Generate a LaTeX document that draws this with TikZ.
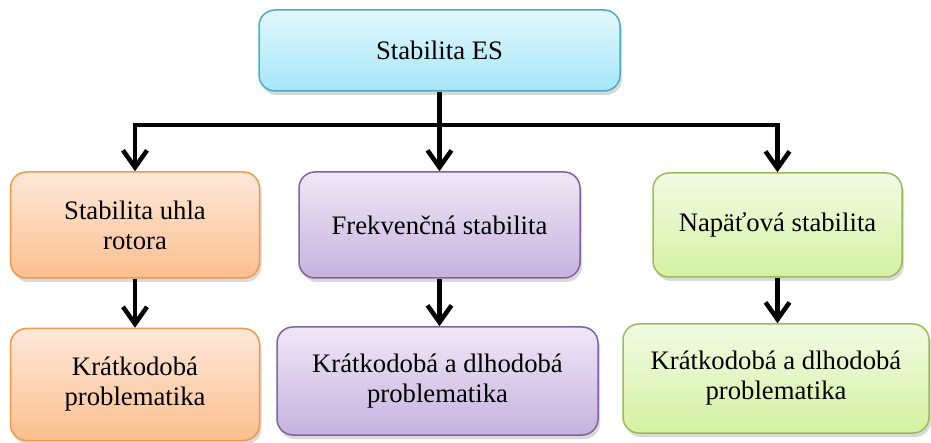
\documentclass[tikz,border=0pt]{standalone}
\usepackage{fontspec}
\setmainfont{Liberation Serif}
\usetikzlibrary{arrows.meta,shadows}
\definecolor{cyanT}{HTML}{E2F8FE}
\definecolor{cyanB}{HTML}{A6E6F8}
\definecolor{cyanD}{HTML}{4BACC6}
\definecolor{orT}{HTML}{FDE8DA}
\definecolor{orB}{HTML}{FBBF8E}
\definecolor{orD}{HTML}{F79646}
\definecolor{puT}{HTML}{EFE8F6}
\definecolor{puB}{HTML}{C6B2DE}
\definecolor{puD}{HTML}{8064A2}
\definecolor{grT}{HTML}{F2FBE4}
\definecolor{grB}{HTML}{D5F1A2}
\definecolor{grD}{HTML}{9BBB59}
\tikzset{
  box/.style={rounded corners=16pt, line width=1.5pt, align=center,
    font=\fontsize{26.7}{30}\selectfont, inner sep=0pt,
    drop shadow={shadow xshift=2pt, shadow yshift=-4pt, opacity=0.3}},
  cyanbox/.style={box, draw=cyanD, top color=cyanT, bottom color=cyanB},
  orbox/.style={box, draw=orD, top color=orT, bottom color=orB},
  pubox/.style={box, draw=puD, top color=puT, bottom color=puB},
  grbox/.style={box, draw=grD, top color=grT, bottom color=grB},
  conn/.style={line width=4.5pt, -{Straight Barb[length=17pt,width=24pt,line width=4.5pt]}}
}
\begin{document}
\begin{tikzpicture}[x=1pt,y=-1pt]
\useasboundingbox (0,0) rectangle (931,443);
\node[cyanbox, minimum width=361pt, minimum height=81pt] (top) at (439.5,50.5) {Stabilita ES};
\node[orbox, minimum width=249pt, minimum height=106pt] (L1) at (135,225) {Stabilita uhla\\rotora};
\node[orbox, minimum width=249pt, minimum height=112pt] (L2) at (135,384.5) {Krátkodobá\\problematika};
\node[pubox, minimum width=281pt, minimum height=106pt] (M1) at (439.5,225) {Frekvenčná stabilita};
\node[pubox, minimum width=321pt, minimum height=108pt] (M2) at (437.5,381) {Krátkodobá a dlhodobá\\problematika};
\node[grbox, minimum width=249pt, minimum height=104pt] (R1) at (777.5,225) {Napäťová stabilita};
\node[grbox, minimum width=306pt, minimum height=109pt] (R2) at (776,378.5) {Krátkodobá a dlhodobá\\problematika};
\coordinate (hub) at (439.5,125);
\draw[line width=4.5pt] (top.south) -- (hub);
\draw[conn] (hub) -| (L1.north);
\draw[conn] (hub) -- (M1.north);
\draw[conn] (hub) -| (R1.north);
\draw[conn] (L1.south) -- (L1.south |- L2.north);
\draw[conn] (M1.south) -- (M1.south |- M2.north);
\draw[conn] (R1.south) -- (R1.south |- R2.north);
\end{tikzpicture}
\end{document}
